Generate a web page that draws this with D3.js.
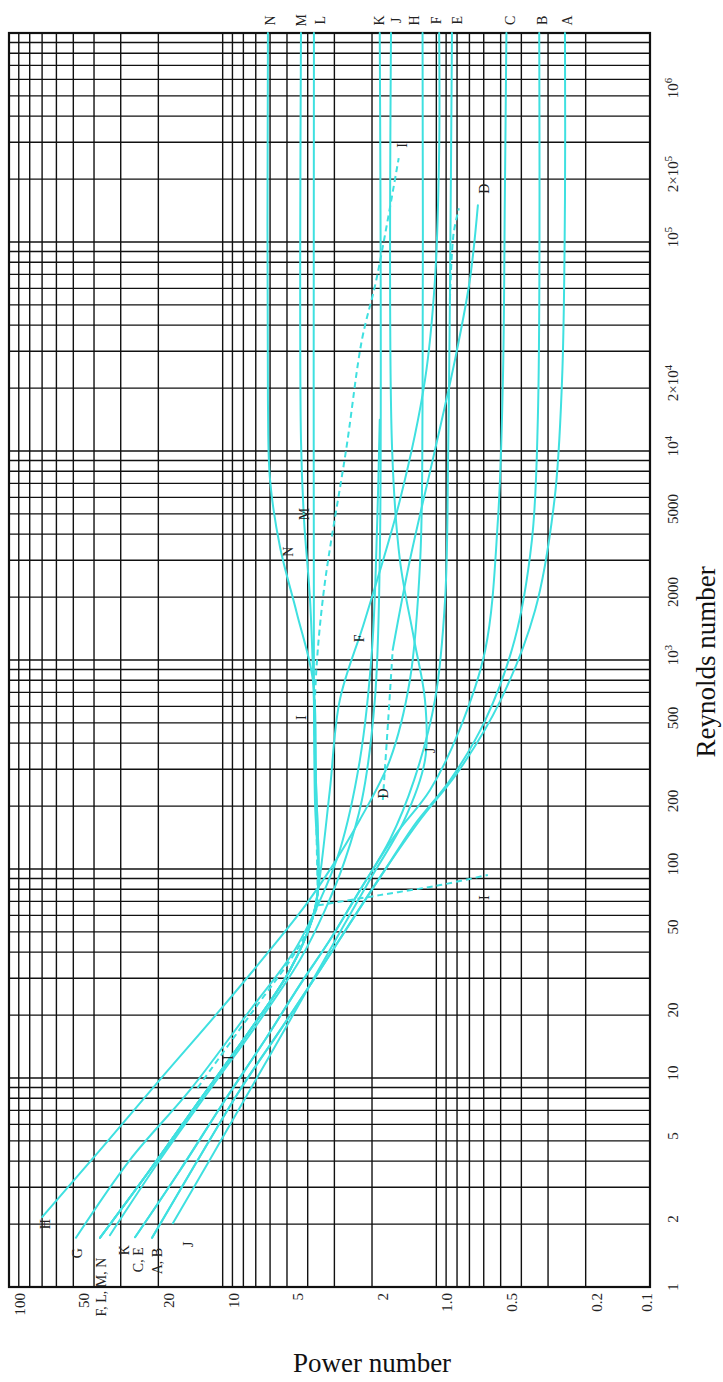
<!DOCTYPE html>
<html>
<head>
<meta charset="utf-8">
<script src="https://cdn.jsdelivr.net/npm/d3@7"></script>
<style>
  body { margin: 0; background: #fff; }
  svg { display: block; }
</style>
</head>
<body>
<svg id="chart"></svg>
<script>
// tick labels
const powerTicks = [100, 50, 20, 10, 5, 2, 1, 0.5, 0.2, 0.1];
const powerTickLabels = ["100", "50", "20", "10", "5", "2", "1.0", "0.5", "0.2", "0.1"];
const reTicks = [1, 2, 5, 10, 20, 50, 100, 200, 500, 1e3, 2e3, 5e3, 1e4, 2e4, 1e5, 2e5, 1e6];
const reTickLabels = ["1", "2", "5", "10", "20", "50", "100", "200", "500", "10^3", "2000", "5000",
  "10^4", "2×10^4", "10^5", "2×10^5", "10^6"];

// curves: [Reynolds number, Power number]
const curveA = [[1.72, 21.4], [3.83, 13.5], [8.77, 8.3], [16.9, 5.39], [32.9, 3.5], [60, 2.4], [99, 1.74],
  [172, 1.19], [298, 0.78], [643, 0.5], [1730, 0.345], [5830, 0.28], [21900, 0.258], [159000, 0.25], [1e6, 0.25]];
const curveB = [[1.72, 21.4], [3.83, 13.5], [8.77, 8.3], [16.9, 5.39], [32.9, 3.5], [60, 2.4], [99, 1.74],
  [162, 1.27], [267, 0.86], [516, 0.59], [1250, 0.43], [3750, 0.357], [14100, 0.335], [1e6, 0.33]];
const curveC = [[1.73, 25.7], [3.63, 15.8], [7.85, 9.75], [15.2, 6.34], [27.9, 4.35], [45.7, 3.15], [79, 2.28],
  [145, 1.56], [239, 1.07], [462, 0.78], [1120, 0.59], [4670, 0.515], [21900, 0.488], [159000, 0.478], [1e6, 0.47]];
const curveD = [[1120, 1.6], [3000, 1.33], [10100, 1.015], [27300, 0.818], [65800, 0.697], [150000, 0.639]];
const curveDDash = [[214, 1.78], [516, 1.68], [1120, 1.6]];
const curveE = [[1.73, 25.7], [3.63, 15.8], [7.85, 9.75], [15.2, 6.34], [27.9, 4.35], [45.7, 3.15], [79, 2.28],
  [138, 1.65], [267, 1.27], [643, 1.015], [1940, 0.91], [10100, 0.88], [52800, 0.864], [1e6, 0.845]];
const curveEDash = [[52800, 0.864], [110000, 0.83], [145000, 0.784]];
const curveF = [[1.72, 37.5], [3.63, 21.9], [7.85, 12.8], [16.9, 7.45], [32.9, 4.84], [57, 3.82], [79, 3.58],
  [239, 3.15], [643, 2.83], [1550, 2.16], [5830, 1.48], [21900, 1.13], [65800, 1.015], [275000, 0.97], [1e6, 0.97]];
const curveG = [[1.72, 48.6], [4.05, 27.2], [8.77, 14.2], [21.1, 7.45], [41, 4.6], [71, 3.5], [123, 2.83],
  [332, 2.28], [1120, 2.0], [4670, 1.89], [14100, 1.84]];
const curveH = [[2.16, 70], [4.52, 37.5], [9.8, 19.7], [21.1, 10.3], [41, 6.0], [67, 4.1], [99, 3.15],
  [172, 2.28], [332, 1.65], [800, 1.33], [3000, 1.19], [17500, 1.16], [1e6, 1.16]];
const curveILow = [[8.97, 13.1], [20, 7.45], [43.3, 4.35], [67, 3.58]];
const curveIUp = [[67, 3.58], [214, 3.66], [643, 3.7], [2000, 3.39], [10500, 2.63], [34000, 2.23], [65800, 1.91], [252000, 1.5]];
const curveIDrop = [[67, 3.58], [75, 1.84], [83.8, 0.96], [93.7, 0.574]];
const curveJ = [[2.02, 17.1], [4.05, 11.5], [8.77, 7.45], [18.9, 4.84], [41, 3.15], [88.6, 2.05], [172, 1.41],
  [332, 1.13], [643, 1.13], [1250, 1.27], [3000, 1.48], [10100, 1.61], [1e6, 1.63]];
const curveK = [[1.77, 33.7], [4.05, 19.7], [8.77, 11.5], [18.9, 6.69], [36.7, 4.35], [63.6, 3.32], [110, 2.68],
  [214, 2.23], [643, 1.94], [3000, 1.84], [1e6, 1.84]];
const curveL = [[1.72, 37.5], [3.63, 21.9], [7.85, 12.8], [16.9, 7.45], [32.9, 4.84], [57, 3.82], [79, 3.58],
  [214, 3.7], [643, 3.74], [1e6, 3.74]];
const curveM = [[1.72, 37.5], [3.63, 21.9], [7.85, 12.8], [16.9, 7.45], [32.9, 4.84], [57, 3.82], [79, 3.58],
  [267, 3.66], [643, 3.74], [1940, 3.9], [4670, 4.16], [11300, 4.3], [1e6, 4.3]];
const curveN = [[1.72, 37.5], [3.63, 21.9], [7.85, 12.8], [16.9, 7.45], [32.9, 4.84], [57, 3.82], [79, 3.58],
  [267, 3.66], [800, 3.78], [1680, 4.5], [3470, 5.39], [7260, 6.0], [17500, 6.14], [1e6, 6.14]];

const solidCurves = [curveA, curveB, curveC, curveD, curveE, curveF, curveG, curveH, curveJ, curveK, curveL, curveM, curveN];
const dashedCurves = [curveDDash, curveEDash, curveILow, curveIUp, curveIDrop];

// curve labels: [text, Reynolds number, Power number]
const curveLabels = [
  ["N", 1.15e6, 6.0], ["M", 1.15e6, 4.3], ["L", 1.15e6, 3.5], ["K", 1.15e6, 1.85], ["J", 1.15e6, 1.55],
  ["H", 1.15e6, 1.27], ["F", 1.15e6, 1.0], ["E", 1.15e6, 0.8], ["C", 1.15e6, 0.45], ["B", 1.15e6, 0.32], ["A", 1.15e6, 0.245],
  ["I", 290000, 1.44], ["D", 180000, 0.6], ["M", 5000, 4.15], ["N", 3300, 4.95], ["F", 1270, 2.3],
  ["I", 530, 4.3], ["D", 230, 1.78], ["J", 370, 1.07], ["I", 73, 0.6], ["I", 12.5, 9.4],
  ["H", 2.0, 68], ["G", 1.45, 48], ["K", 1.5, 29], ["J", 1.6, 14.5],
  ["F, L, M, N", 1.0, 37], ["C, E", 1.35, 25], ["A, B", 1.33, 20.4]
];

const width = 723;
const height = 1382;
const plotLeft = 9, plotRight = 650, plotTop = 33, plotBottom = 1287;
const serif = "'Liberation Serif', 'Times New Roman', serif";
const cyan = "#3fe0e0";

const svg = d3.select("#chart")
  .attr("width", width)
  .attr("height", height)
  .attr("viewBox", [0, 0, width, height])
  .attr("font-family", serif);

const xScale = d3.scaleLog([100, 0.1], [plotLeft, plotRight]);
const yScale = d3.scaleLog([1, 1e6], [plotBottom, plotTop]);

// log grid
const powerGrid = [0.1, 1, 10].flatMap(d => d3.range(1, 10).map(k => k * d)).concat([100]);
const reGrid = [1, 10, 100, 1e3, 1e4, 1e5].flatMap(d => d3.range(1, 10).map(k => k * d)).concat([1e6]);

const grid = svg.append("g")
  .attr("stroke", "#111")
  .attr("stroke-width", 1.4);

grid.selectAll("line.v")
  .data(powerGrid)
  .join("line")
  .attr("class", "v")
  .attr("x1", d => xScale(d))
  .attr("x2", d => xScale(d))
  .attr("y1", plotTop)
  .attr("y2", plotBottom);

grid.selectAll("line.h")
  .data(reGrid)
  .join("line")
  .attr("class", "h")
  .attr("x1", plotLeft)
  .attr("x2", plotRight)
  .attr("y1", d => yScale(d))
  .attr("y2", d => yScale(d));

svg.append("rect")
  .attr("x", plotLeft)
  .attr("y", plotTop)
  .attr("width", plotRight - plotLeft)
  .attr("height", plotBottom - plotTop)
  .attr("fill", "none")
  .attr("stroke", "#111")
  .attr("stroke-width", 2.2);

// curves
const line = d3.line()
  .x(d => xScale(d[1]))
  .y(d => yScale(d[0]))
  .curve(d3.curveCatmullRom.alpha(0.5));

const curves = svg.append("g")
  .attr("fill", "none")
  .attr("stroke", cyan)
  .attr("stroke-width", 2)
  .attr("stroke-linecap", "round");

curves.selectAll("path.solid")
  .data(solidCurves)
  .join("path")
  .attr("class", "solid")
  .attr("d", line);

curves.selectAll("path.dash")
  .data(dashedCurves)
  .join("path")
  .attr("class", "dash")
  .attr("stroke-dasharray", "6,4")
  .attr("stroke-linecap", "butt")
  .attr("d", line);

// rotated text helper, reads bottom to top
function addLabel(g, str, x, y, size, anchor) {
  const t = g.append("text")
    .attr("transform", `translate(${x},${y}) rotate(-90)`)
    .attr("text-anchor", anchor || "middle")
    .attr("dominant-baseline", "central")
    .attr("font-size", size)
    .attr("fill", "#222");
  const parts = str.split("^");
  t.append("tspan").text(parts[0]);
  if (parts[1]) {
    t.append("tspan")
      .attr("dy", "-0.45em")
      .attr("font-size", size * 0.72)
      .text(parts[1]);
  }
  return t;
}

const labels = svg.append("g");
curveLabels.forEach(([txt, re, p]) => {
  addLabel(labels, txt, xScale(p), yScale(re), 14);
});

// power number ticks under the frame
const pTicks = svg.append("g");
powerTicks.forEach((v, i) => {
  const dx = v === 0.1 ? -3 : 11;
  addLabel(pTicks, powerTickLabels[i], xScale(v) + dx, plotBottom + 6, 15, "end");
});

// Reynolds number ticks right of the frame
const rTicks = svg.append("g");
reTicks.forEach((v, i) => {
  const dy = v === 1 ? 0 : (v === 1e6 ? 55 : -5);
  addLabel(rTicks, reTickLabels[i], 673, yScale(v) + dy, 15);
});

svg.append("text")
  .attr("x", 372)
  .attr("y", 1372)
  .attr("text-anchor", "middle")
  .attr("font-size", 27)
  .attr("fill", "#111")
  .text("Power number");

svg.append("text")
  .attr("transform", "translate(706,662) rotate(-90)")
  .attr("text-anchor", "middle")
  .attr("dominant-baseline", "central")
  .attr("font-size", 27)
  .attr("fill", "#111")
  .text("Reynolds number");
</script>
</body>
</html>
